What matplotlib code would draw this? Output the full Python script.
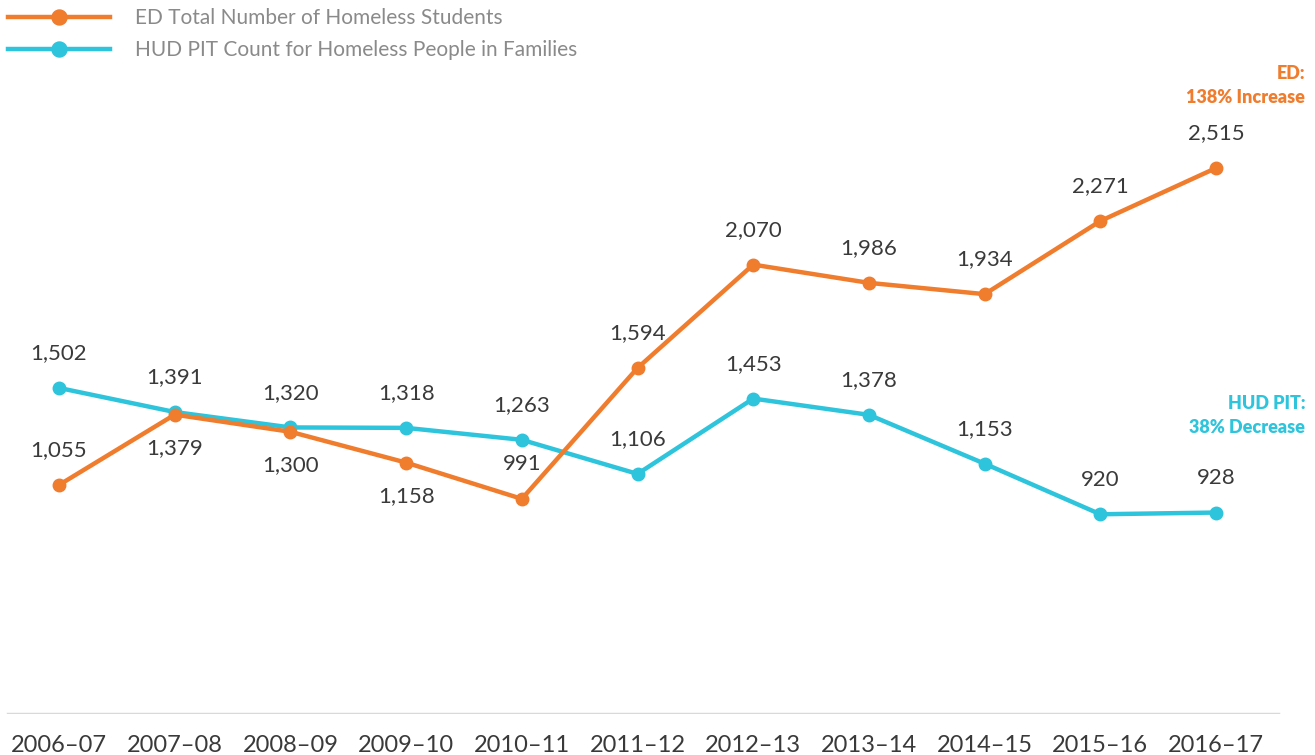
import matplotlib
matplotlib.use('Agg')
import matplotlib.pyplot as plt

plt.rcParams['font.family'] = ['Lato', 'DejaVu Sans']

# --- data ---
years = ['2006–07', '2007–08', '2008–09', '2009–10', '2010–11', '2011–12',
         '2012–13', '2013–14', '2014–15', '2015–16', '2016–17']
ed_students = [1055, 1379, 1300, 1158, 991, 1594, 2070, 1986, 1934, 2271, 2515]
hud_pit = [1502, 1391, 1320, 1318, 1263, 1106, 1453, 1378, 1153, 920, 928]
ed_label_below = [False, True, True, True, False, False, False, False, False, False, False]

ORANGE = '#F07C2E'
CYAN = '#2EC4DC'
TEXT = '#3a3a3a'

fig = plt.figure(figsize=(13.15, 7.55), dpi=100)
ax = fig.add_axes([0, 41 / 755, 1, 714 / 755])
x = list(range(len(years)))

ax.plot(x, ed_students, color=ORANGE, lw=3.2, marker='o', ms=9, zorder=3,
        label='ED Total Number of Homeless Students')
ax.plot(x, hud_pit, color=CYAN, lw=3.2, marker='o', ms=9, zorder=2,
        label='HUD PIT Count for Homeless People in Families')

ax.set_xlim(-0.51, 10.855)
ax.set_ylim(0, 3289)

# value labels
for i, v in enumerate(hud_pit):
    ax.annotate(f'{v:,}', (i, v), xytext=(0, 25), textcoords='offset points',
                ha='center', va='center', fontsize=16, color=TEXT)
for i, v in enumerate(ed_students):
    dy = -24 if ed_label_below[i] else 25
    ax.annotate(f'{v:,}', (i, v), xytext=(0, dy), textcoords='offset points',
                ha='center', va='center', fontsize=16, color=TEXT)

# baseline
ax.axhline(0, xmin=8 / 1315, xmax=1278 / 1315, color='#d9d9d9', lw=2.5, zorder=1)

# x tick labels
ax.set_xticks(x)
ax.set_xticklabels(years, fontsize=17, color=TEXT)
ax.tick_params(axis='x', length=0, pad=15)
ax.set_yticks([])
for s in ax.spines.values():
    s.set_visible(False)

# right-side notes
ax.text(10.77, 2895, 'ED:\n138% Increase', ha='right', va='center', fontsize=13,
        fontweight='heavy', color=ORANGE, linespacing=1.55)
ax.text(10.77, 1375, 'HUD PIT:\n38% Decrease', ha='right', va='center', fontsize=13,
        fontweight='heavy', color=CYAN, linespacing=1.55)

leg = ax.legend(loc='upper left', bbox_to_anchor=(0.0, 1.0), frameon=False,
                fontsize=15, handlelength=4.9, handletextpad=1.2, labelspacing=0.55,
                borderaxespad=0, markerscale=1.2)
for t in leg.get_texts():
    t.set_color('#8a8a8a')

fig.savefig('out.png', dpi=100)
